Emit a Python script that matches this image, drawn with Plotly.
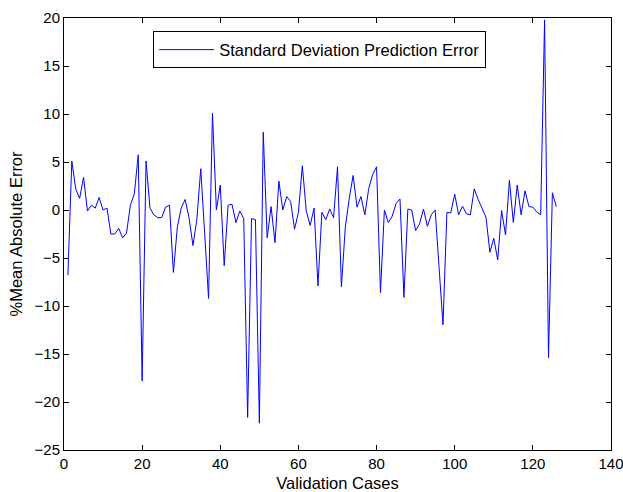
import plotly.graph_objects as go

cases = list(range(1, 127))
errors = [
    -6.8, 5.1, 2.2, 1.2, 3.4, -0.1, 0.5, 0.2, 1.3, 0.0,
    0.2, -2.5, -2.5, -1.9, -2.9, -2.4, 0.5, 1.7, 5.75, -17.8,
    5.1, 0.2, -0.5, -0.8, -0.8, 0.3, 0.5, -6.5, -1.8, 0.2,
    1.1, -0.8, -3.7, -1.0, 4.3, -2.5, -9.2, 10.1, 0.0, 2.6,
    -5.8, 0.5, 0.6, -1.3, -0.1, -0.9, -21.6, -0.9, -1.0, -22.2,
    8.1, -2.9, 0.35, -3.4, 3.0, 0.0, 1.4, 0.9, -2.0, -0.25,
    4.6, -0.1, -1.6, 0.2, -7.9, -0.25, -1.0, 0.1, -0.8, 4.5,
    -8.0, -1.8, 1.2, 3.6, 0.3, 1.4, -0.5, 2.25, 3.7, 4.5,
    -8.6, 0.0, -1.3, -0.65, 0.7, 1.15, -9.1, 0.1, 0.0, -2.15,
    -1.45, 0.1, -1.7, -0.5, 0.0, -6.0, -11.95, -0.25, -0.3, 1.65,
    -0.5, 0.4, -0.4, -0.5, 2.2, 1.1, 0.1, -0.75, -4.4, -2.95,
    -5.2, -0.05, -2.6, 3.1, -1.3, 2.6, -0.5, 2.0, 0.35, 0.3,
    -0.2, -0.5, 19.8, -15.4, 1.8, 0.35,
]
x_ticks = [0, 20, 40, 60, 80, 100, 120, 140]
y_ticks = [-25, -20, -15, -10, -5, 0, 5, 10, 15, 20]

FONT = "Liberation Sans, Arial"

fig = go.Figure()
fig.add_trace(go.Scatter(
    x=cases, y=errors, mode="lines",
    name="Standard Deviation Prediction Error",
    line=dict(color="#0000ff", width=1),
))

axis_common = dict(
    showgrid=False, zeroline=False, showline=True, linecolor="black",
    linewidth=1, mirror="ticks", ticks="inside", ticklen=5,
    tickcolor="black", automargin=False, ticklabeloverflow="allow",
    tickfont=dict(family=FONT, size=15, color="black"),
)
fig.update_xaxes(range=[0, 140], tickvals=x_ticks,
                 title=dict(text="Validation Cases", standoff=8,
                            font=dict(family=FONT, size=16.5, color="black")),
                 **axis_common)
fig.update_yaxes(range=[-25, 20], tickvals=y_ticks,
                 title=dict(text="%Mean Absolute Error", standoff=7,
                            font=dict(family=FONT, size=16.5, color="black")),
                 **axis_common)

fig.update_layout(
    width=623, height=492,
    margin=dict(l=64, r=12, t=18, b=42),
    plot_bgcolor="white", paper_bgcolor="white",
    showlegend=True,
    legend=dict(x=0.163, y=0.969, xanchor="left", yanchor="top",
                bordercolor="black", borderwidth=1, bgcolor="white",
                itemwidth=55,
                font=dict(family=FONT, size=16.5, color="black")),
)

fig.write_html("out.html")
